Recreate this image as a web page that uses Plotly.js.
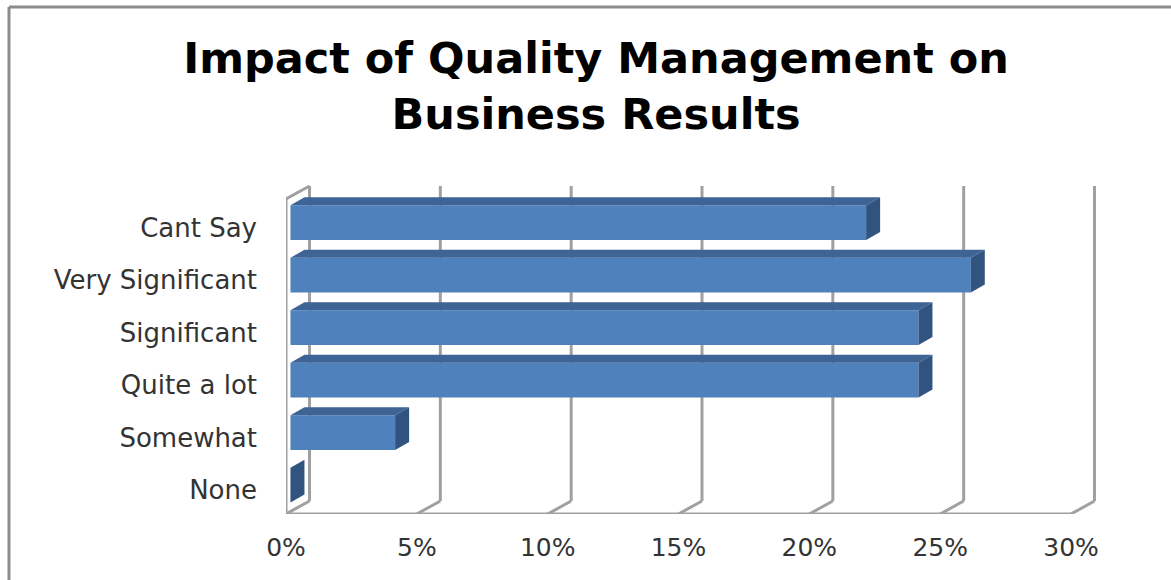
<!DOCTYPE html>
<html>
<head>
<meta charset="utf-8">
<script src="https://cdn.plot.ly/plotly-3.0.1.min.js"></script>
<style>html,body{margin:0;padding:0;background:#fff}</style>
</head>
<body>
<div id="chart" style="width:1171px;height:580px"></div>
<script>
// Survey responses, listed bottom to top along the category axis
const categories = ["None", "Somewhat", "Quite a lot", "Significant", "Very Significant", "Cant Say"];
const shares = [0, 4, 24, 24, 26, 22];
const tickValues = [0, 5, 10, 15, 20, 25, 30];
const tickLabels = ["0%", "5%", "10%", "15%", "20%", "25%", "30%"];

// Oblique projection, expressed in axis units
const wallDx = 0.898, wallDy = 0.248;   // front plane to back wall
const barShiftX = 0.17, barShiftY = 0.05; // front face of a bar inside the plane
const barDepthX = 0.535, barDepthY = 0.152;
const barHalf = 0.33;
const yFloor = -0.5, yTop = 5.5;
const labelDrop = 0.05; // category labels sit a little below the band centre

const positions = categories.map((_, i) => i);

const polygons = (faceOf) => {
  const xs = [], ys = [];
  shares.forEach((v, i) => {
    faceOf(v + barShiftX, i + barShiftY).forEach(p => { xs.push(p[0]); ys.push(p[1]); });
    xs.push(null); ys.push(null);
  });
  return {xs, ys};
};

const topFaces = polygons((xEnd, yc) => [
  [barShiftX, yc + barHalf],
  [xEnd, yc + barHalf],
  [xEnd + barDepthX, yc + barHalf + barDepthY],
  [barShiftX + barDepthX, yc + barHalf + barDepthY],
  [barShiftX, yc + barHalf]
]);
const sideFaces = polygons((xEnd, yc) => [
  [xEnd, yc - barHalf],
  [xEnd, yc + barHalf],
  [xEnd + barDepthX, yc + barHalf + barDepthY],
  [xEnd + barDepthX, yc - barHalf + barDepthY],
  [xEnd, yc - barHalf]
]);

const data = [
  {
    type: "bar", orientation: "h",
    x: shares, y: positions,
    base: shares.map(() => barShiftX),
    width: barHalf * 2,
    offset: shares.map(() => barShiftY - barHalf),
    marker: {color: "#4f81bd", line: {width: 0}},
    hoverinfo: "skip", showlegend: false
  },
  {
    type: "scatter", mode: "lines", x: topFaces.xs, y: topFaces.ys,
    fill: "toself", fillcolor: "#3d6495", line: {width: 0},
    hoverinfo: "skip", showlegend: false
  },
  {
    type: "scatter", mode: "lines", x: sideFaces.xs, y: sideFaces.ys,
    fill: "toself", fillcolor: "#31537f", line: {width: 0},
    hoverinfo: "skip", showlegend: false
  }
];

// Back wall grid and floor of the 3D frame
const frameLine = {color: "#a0a0a0", width: 3};
const dataLine = (x0, y0, x1, y1) => ({
  type: "line", xref: "x", yref: "y", layer: "below",
  x0, y0, x1, y1, line: frameLine
});
const shapes = [];
tickValues.forEach(t => {
  shapes.push(dataLine(t + wallDx, yFloor + wallDy, t + wallDx, yTop + wallDy));
  shapes.push(dataLine(t, yFloor, t + wallDx, yFloor + wallDy));
});
shapes.push(dataLine(0, yFloor, 0, yTop));
shapes.push(dataLine(0, yTop, wallDx, yTop + wallDy));
shapes.push(dataLine(0, yFloor, tickValues[tickValues.length - 1], yFloor));

// Outer chart border along the top and left edges
const borderLine = {color: "#8c8c8c", width: 3};
shapes.push({type: "line", xref: "paper", yref: "paper", layer: "below",
  x0: -0.3403, x1: 1.09, y0: 1.518, y1: 1.518, line: borderLine});
shapes.push({type: "line", xref: "paper", yref: "paper", layer: "below",
  x0: -0.3403, x1: -0.3403, y0: 1.518, y1: -0.2, line: borderLine});

const layout = {
  width: 1171, height: 580,
  paper_bgcolor: "#fff", plot_bgcolor: "rgba(0,0,0,0)",
  margin: {l: 286, r: 71, t: 180, b: 66},
  showlegend: false,
  hovermode: false,
  title: {
    text: "Impact of Quality Management on<br>Business Results",
    font: {family: "DejaVu Sans, sans-serif", size: 43, color: "#000", weight: 700},
    x: 0.509, xanchor: "center", xref: "container", y: 0.874, yanchor: "top"
  },
  xaxis: {
    range: [0, 31.108], tickvals: tickValues, ticktext: tickLabels,
    showgrid: false, zeroline: false, showline: false, ticks: "",
    ticklabelstandoff: 16,
    tickfont: {family: "DejaVu Sans, sans-serif", size: 25, color: "#333"}
  },
  yaxis: {
    range: [yFloor, 5.862], tickvals: positions.map(p => p - labelDrop), ticktext: categories,
    showgrid: false, zeroline: false, showline: false, ticks: "",
    ticklabelstandoff: 28,
    tickfont: {family: "DejaVu Sans, sans-serif", size: 26, color: "#333"}
  },
  shapes
};

Plotly.newPlot("chart", data, layout, {displayModeBar: false, staticPlot: true});
</script>
</body>
</html>
